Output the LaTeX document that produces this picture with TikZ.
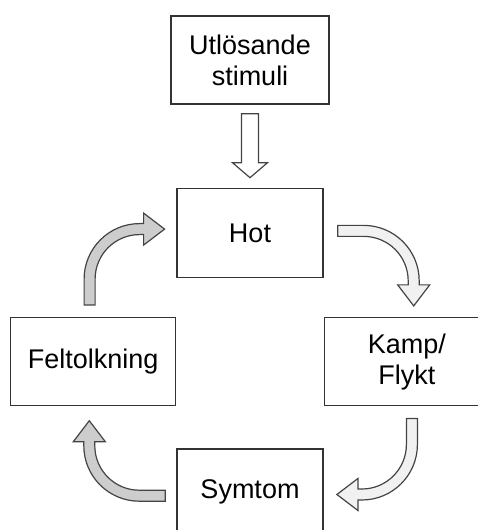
\documentclass[tikz,border=0pt]{standalone}
\usepackage{fontspec}
\setmainfont{Liberation Sans}
\usepackage{tikz}
\usetikzlibrary{positioning, calc}

\definecolor{boxline}{HTML}{333333}
\definecolor{arrowline}{HTML}{444444}
\definecolor{palefill}{HTML}{F1F1F1}
\definecolor{darkfill}{HTML}{CDCDCD}

\begin{document}
\begin{tikzpicture}[x=1pt, y=1pt,
  box/.style={draw=boxline, line width=1.4pt, fill=white, inner sep=0pt,
    minimum width=165pt, minimum height=88pt, align=center,
    font=\fontsize{27}{31}\selectfont},
  barrow/.style={draw=arrowline, line width=1.2pt, line join=miter},
  bendarrow/.pic={
    \draw[barrow, fill=#1] (0,5.5) -- ++(26,0)
      arc[start angle=90, end angle=0, radius=55.5] -- ++(0,-4)
      -- ++(10.5,0) -- ++(-16,-21) -- ++(-16,21) -- ++(10.5,0) -- ++(0,4)
      arc[start angle=0, end angle=90, radius=44.5] -- ++(-26,0) -- cycle;
  }
]
\useasboundingbox (0,0) rectangle (478,530);
\clip (0,0) rectangle (478,530);

\node[box, minimum width=158pt] (stim) at (250,470) {Utlösande\\stimuli};
\node[box, minimum width=146pt, minimum height=89pt, below=83pt of stim] (hot) {Hot};
\node[box, below left=39pt and 0pt of hot.south west] (fel) {Feltolkning};
\node[box, below right=39pt and 0pt of hot.south east] (kamp) {Kamp/\\Flykt};
\coordinate (mid) at (hot |- fel.south);
\node[box, minimum width=146pt, minimum height=86pt, below=42pt of mid] (sym) {Symtom};

% stimuli -> hot
\draw[barrow, fill=white] ($(stim.south)+(-8.5,-9)$) -- ++(17,0) -- ++(0,-49)
  -- ++(9,0) -- ++(-17.5,-15) -- ++(-17.5,15) -- ++(9,0) -- cycle;

% the loop
\pic at ($(hot.east)+(14,2)$) {bendarrow=palefill};
\pic[rotate=-90] at ($(kamp.south)+(5,-12)$) {bendarrow=palefill};
\pic[rotate=180] at ($(sym.west)+(-11,-3.5)$) {bendarrow=darkfill};
\pic[rotate=90] at ($(fel.north)+(-3.5,12)$) {bendarrow=darkfill};
\end{tikzpicture}
\end{document}
